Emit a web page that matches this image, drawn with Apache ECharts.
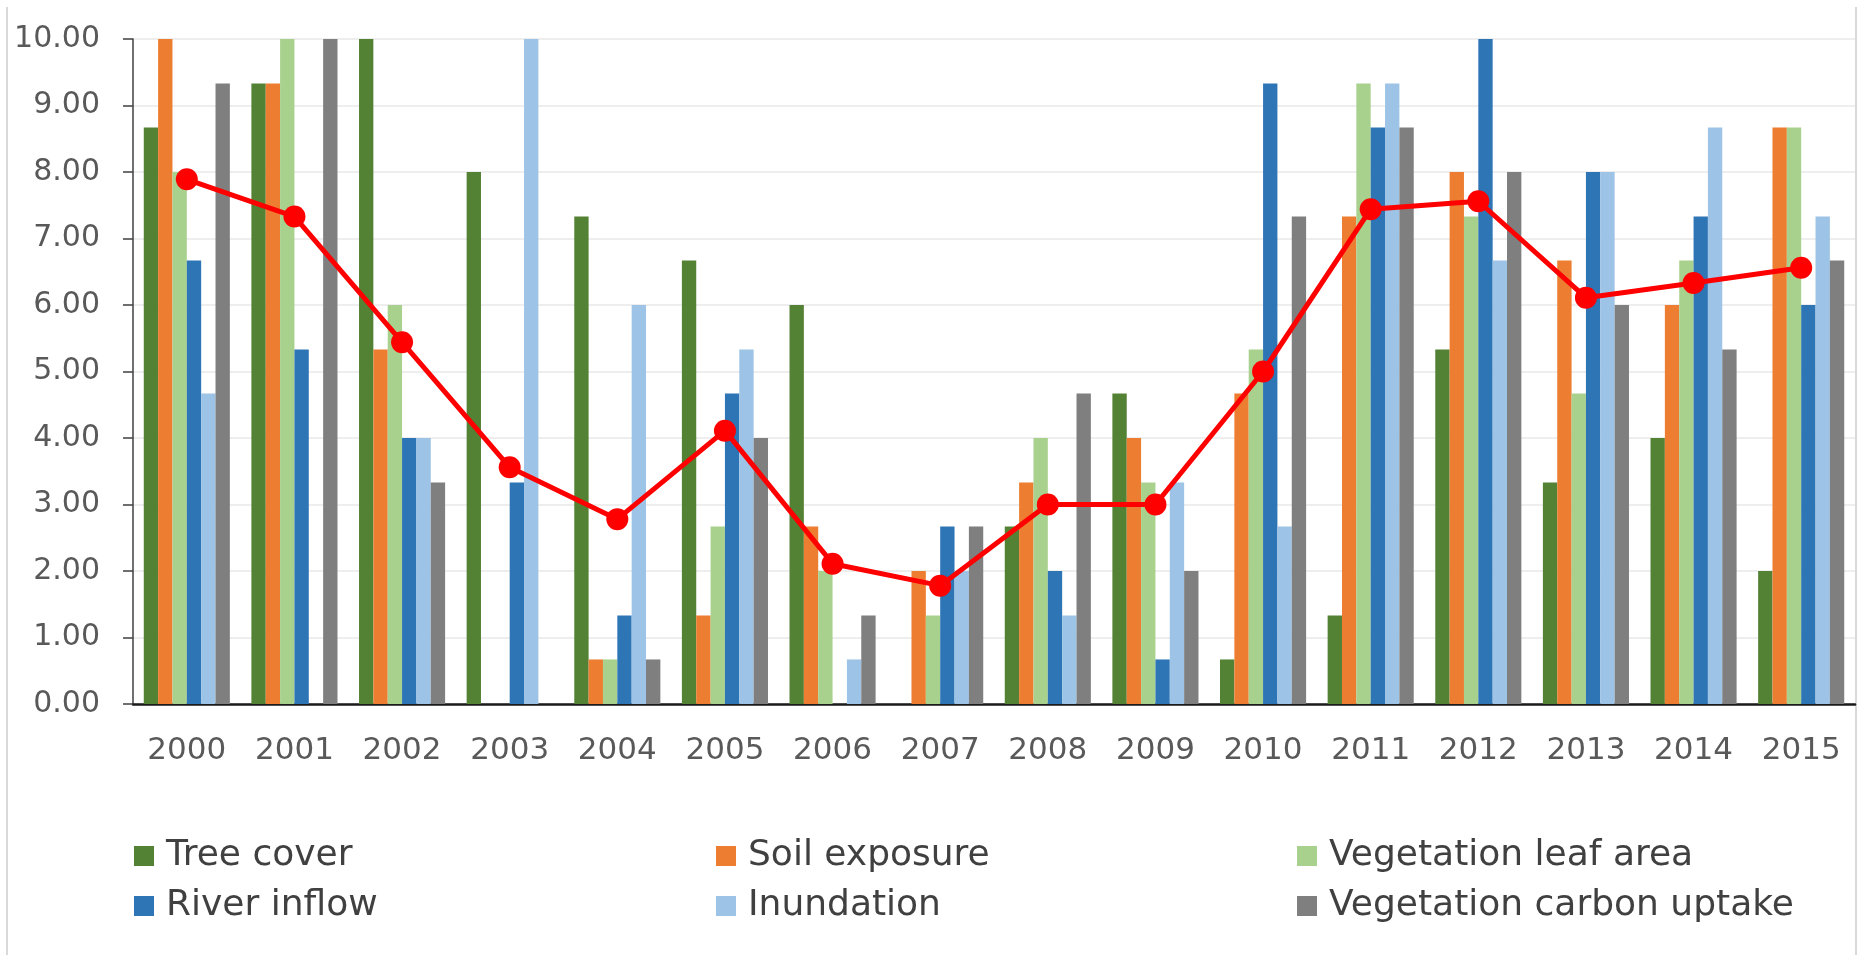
<!DOCTYPE html>
<html>
<head>
<meta charset="utf-8">
<script src="https://cdn.jsdelivr.net/npm/echarts@6/dist/echarts.min.js"></script>
<style>
  html, body { margin: 0; padding: 0; background: #ffffff; }
  #chart { width: 1862px; height: 955px; }
</style>
</head>
<body>
<div id="chart"></div>
<script>
const years = ['2000','2001','2002','2003','2004','2005','2006','2007','2008','2009','2010','2011','2012','2013','2014','2015'];
const treeCover     = [8.67, 9.33, 10.00, 8.00, 7.33, 6.67, 6.00, 0.00, 2.67, 4.67, 0.67, 1.33, 5.33, 3.33, 4.00, 2.00];
const soilExposure  = [10.00, 9.33, 5.33, 0.00, 0.67, 1.33, 2.67, 2.00, 3.33, 4.00, 4.67, 7.33, 8.00, 6.67, 6.00, 8.67];
const vegLeafArea   = [8.00, 10.00, 6.00, 0.00, 0.67, 2.67, 2.00, 1.33, 4.00, 3.33, 5.33, 9.33, 7.33, 4.67, 6.67, 8.67];
const riverInflow   = [6.67, 5.33, 4.00, 3.33, 1.33, 4.67, 0.00, 2.67, 2.00, 0.67, 9.33, 8.67, 10.00, 8.00, 7.33, 6.00];
const inundation    = [4.67, 0.00, 4.00, 10.00, 6.00, 5.33, 0.67, 2.00, 1.33, 3.33, 2.67, 9.33, 6.67, 8.00, 8.67, 7.33];
const carbonUptake  = [9.33, 10.00, 3.33, 0.00, 0.67, 4.00, 1.33, 2.67, 4.67, 2.00, 7.33, 8.67, 8.00, 6.00, 5.33, 6.67];
const meanIndex     = [7.89, 7.33, 5.44, 3.56, 2.78, 4.11, 2.11, 1.78, 3.00, 3.00, 5.00, 7.44, 7.56, 6.11, 6.33, 6.56];
const yTicks = ['0.00','1.00','2.00','3.00','4.00','5.00','6.00','7.00','8.00','9.00','10.00'];

const seriesNames = ['Tree cover','Soil exposure','Vegetation leaf area','River inflow','Inundation','Vegetation carbon uptake'];
const seriesData = [treeCover, soilExposure, vegLeafArea, riverInflow, inundation, carbonUptake];
const colors = ['#548235','#ED7D31','#A9D18E','#2E75B6','#9DC3E6','#7F7F7F'];

const FONT = 'DejaVu Sans';
const chart = echarts.init(document.getElementById('chart'), null, { renderer: 'canvas' });

function legendAt(left, names) {
  return {
    orient: 'vertical',
    left: left,
    top: 836,
    padding: 0,
    itemWidth: 20,
    itemHeight: 20,
    itemGap: 10,
    icon: 'rect',
    data: names,
    textStyle: { fontFamily: FONT, fontSize: 36, color: '#404040', lineHeight: 40, padding: [0, 0, 0, 7] }
  };
}

const bars = seriesNames.map((n, i) => ({
  name: n,
  type: 'bar',
  data: seriesData[i],
  itemStyle: { color: colors[i] },
  barGap: '0%',
  barCategoryGap: '20%',
  emphasis: { disabled: true }
}));

const option = {
  animation: false,
  backgroundColor: '#ffffff',
  grid: { left: 133, right: 7, top: 39, bottom: 251, containLabel: false },
  legend: [
    legendAt(134, ['Tree cover', 'River inflow']),
    legendAt(716, ['Soil exposure', 'Inundation']),
    legendAt(1297, ['Vegetation leaf area', 'Vegetation carbon uptake'])
  ],
  xAxis: {
    type: 'category',
    data: years,
    axisLine: { show: true, lineStyle: { color: '#1a1a1a', width: 2.5 } },
    axisTick: { show: false },
    axisLabel: { fontFamily: FONT, fontSize: 31, color: '#595959', margin: 31 },
    splitLine: { show: false }
  },
  yAxis: {
    type: 'value',
    min: 0,
    max: 10,
    interval: 1,
    axisLine: { show: true, lineStyle: { color: '#404040', width: 1.5 } },
    axisTick: { show: true, length: 10, inside: false, lineStyle: { color: '#404040', width: 1.5 } },
    axisLabel: {
      fontFamily: FONT, fontSize: 30, color: '#595959', margin: 33,
      formatter: (v) => yTicks[Math.round(v)]
    },
    splitLine: { show: true, lineStyle: { color: '#e8e8e8', width: 1.5 } }
  },
  graphic: [
    { type: 'line', shape: { x1: 7, y1: 7, x2: 7, y2: 955 }, style: { stroke: '#d9d9d9', lineWidth: 2 } },
    { type: 'line', shape: { x1: 1856, y1: 7, x2: 1856, y2: 955 }, style: { stroke: '#d9d9d9', lineWidth: 2 } }
  ],
  series: bars.concat([{
    name: 'Mean',
    type: 'line',
    data: meanIndex,
    z: 10,
    symbol: 'circle',
    symbolSize: 22,
    itemStyle: { color: '#FF0000' },
    lineStyle: { color: '#FF0000', width: 5 },
    emphasis: { disabled: true }
  }])
};
chart.setOption(option);
</script>
</body>
</html>
